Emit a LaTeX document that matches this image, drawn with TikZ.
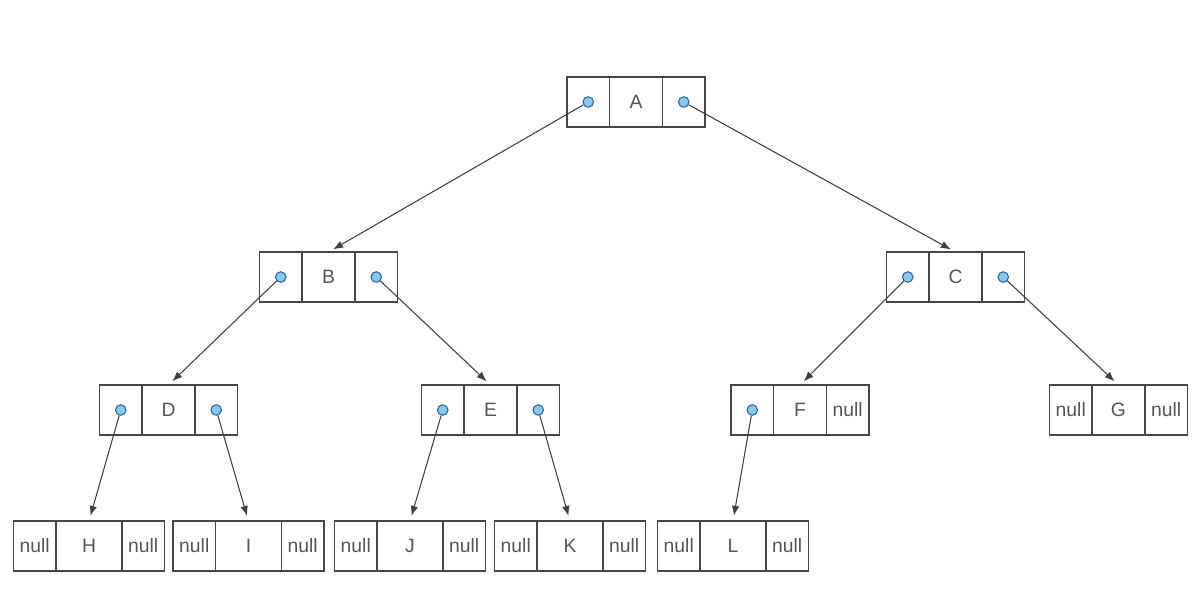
\documentclass[tikz,border=0pt]{standalone}
\usepackage{fontspec}
\setmainfont{Liberation Sans}
\usetikzlibrary{arrows.meta,positioning}
\definecolor{celledge}{RGB}{70,70,70}
\definecolor{labelgray}{RGB}{85,85,85}
\definecolor{ptrfill}{RGB}{135,200,238}
\definecolor{ptredge}{RGB}{45,100,150}

\begin{document}
\begin{tikzpicture}[
  x=0.02cm,y=-0.02cm,
  font=\fontsize{11}{13}\selectfont,
  text=labelgray,
  arrow/.style={-{Latex[length=2mm,width=1.5mm]},line width=0.6pt,draw=celledge!90!black,shorten >=3pt},
  keycell/.style={draw=celledge,line width=0.6pt,minimum height=1cm,minimum width=1.06cm,
    outer sep=0pt,inner sep=0pt},
  leafcell/.style={keycell,minimum width=1.32cm},
  sidecell/.style={draw=celledge,line width=0.6pt,minimum height=1cm,minimum width=0.85cm,
    outer sep=0pt,inner sep=0pt},
  ptr/.style={circle,draw=ptredge,fill=ptrfill,line width=0.6pt,minimum size=6pt,inner sep=0pt}
]
\useasboundingbox (0,0) rectangle (1200,593);

% -------------------------------------------------------------------------
% Inner nodes: pointer | key | pointer
% -------------------------------------------------------------------------
\node[keycell] (A) at (636,102) {A};
\node[keycell] (B) at (328.5,277) {B};
\node[keycell] (C) at (955.5,277) {C};
\node[keycell] (D) at (168.5,410) {D};
\node[keycell] (E) at (490.5,410) {E};
\node[keycell] (F) at (800,410) {F};
\node[keycell] (G) at (1118.5,410) {G};
\foreach \n in {A,B,C,D,E,F,G}
  {\node[sidecell,left=0pt of \n] (\n l) {};
   \node[sidecell,right=0pt of \n] (\n r) {};}

% -------------------------------------------------------------------------
% Leaves: both links empty.
% -------------------------------------------------------------------------
\node[leafcell] (H) at (89,546) {H};
\node[leafcell] (I) at (248.5,546) {I};
\node[leafcell] (J) at (410,546) {J};
\node[leafcell] (K) at (570,546) {K};
\node[leafcell] (L) at (733,546) {L};
\foreach \n in {H,I,J,K,L}
  {\node[sidecell,left=0pt of \n] (\n l) {null};
   \node[sidecell,right=0pt of \n] (\n r) {null};}
\node at (Fr) {null};
\node at (Gl) {null};
\node at (Gr) {null};

% Pointer dots and the links they hold.
\foreach \c in {Al,Ar,Bl,Br,Cl,Cr,Dl,Dr,El,Er,Fl}
  {\node[ptr] (\c p) at (\c) {};}
\foreach \a/\b in {Alp/B,Arp/C,Blp/D,Brp/E,Clp/F,Crp/G,Dlp/H,Drp/I,Elp/J,Erp/K,Flp/L}
  {\draw[arrow] (\a) -- (\b.north);}
\end{tikzpicture}
\end{document}
